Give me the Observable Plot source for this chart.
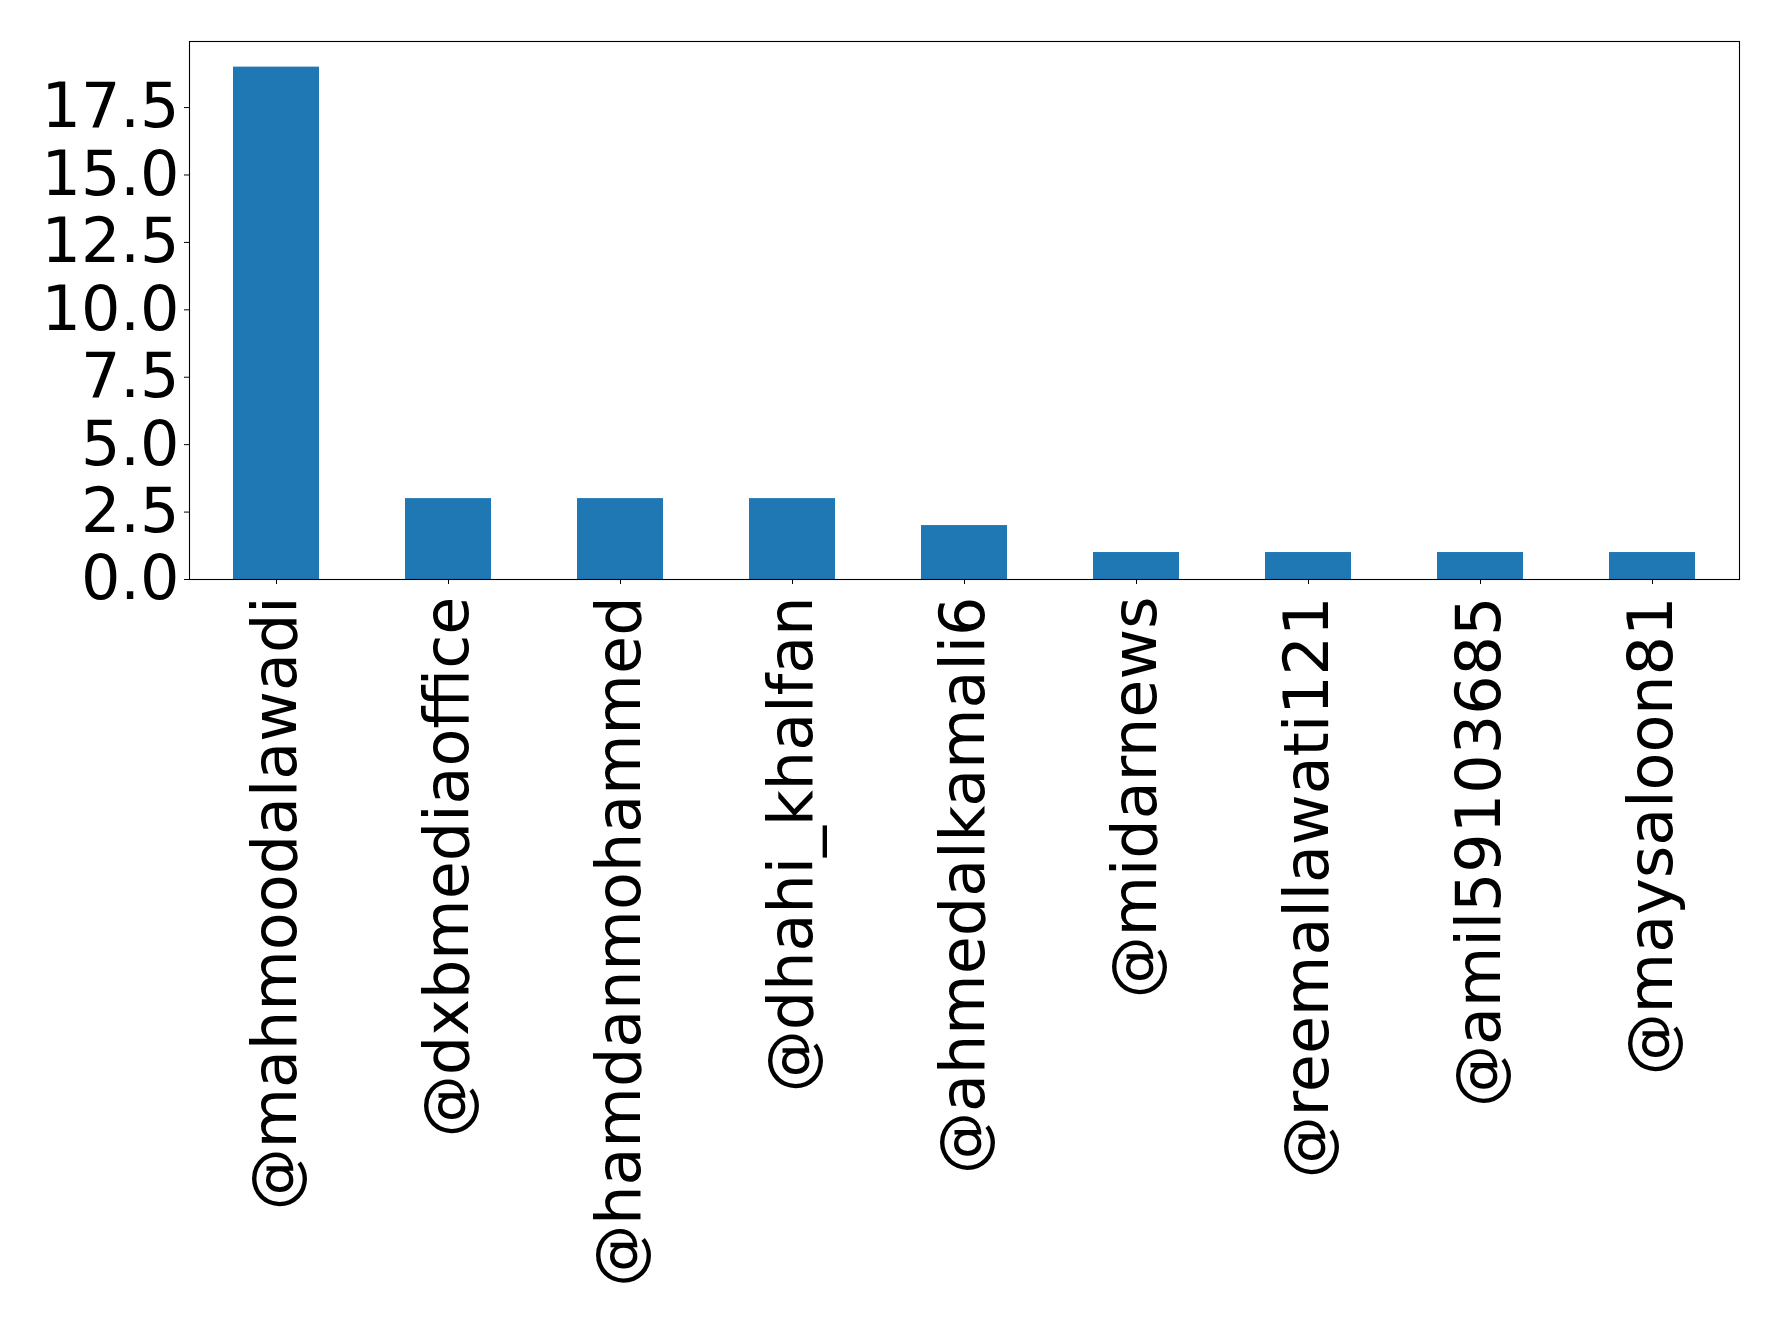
<!DOCTYPE html>
<html>
<head>
<meta charset="utf-8">
<script src="https://cdn.jsdelivr.net/npm/d3@7"></script>
<script src="https://cdn.jsdelivr.net/npm/@observablehq/plot@0.6"></script>
<style>
  html, body { margin: 0; padding: 0; background: white; }
  #chart { width: 1778px; height: 1323px; }
</style>
</head>
<body>
<div id="chart"></div>
<script>
// Mention counts per account
const handles = [
  "@mahmoodalawadi",
  "@dxbmediaoffice",
  "@hamdanmohammed",
  "@dhahi_khalfan",
  "@ahmedalkamali6",
  "@midarnews",
  "@reemallawati121",
  "@amil59103685",
  "@maysaloon81"
];
const counts = [19, 3, 3, 3, 2, 1, 1, 1, 1];
const yTicks = [0, 2.5, 5, 7.5, 10, 12.5, 15, 17.5];

const rows = handles.map((h, i) => ({handle: h, count: counts[i]}));
const yMax = d3.max(counts) * 1.05;

const chart = Plot.plot({
  width: 1778,
  height: 1323,
  marginLeft: 189,
  marginRight: 39,
  marginTop: 41,
  marginBottom: 744,
  style: {
    fontFamily: "'DejaVu Sans', sans-serif",
    fontSize: "62px",
    background: "white",
    color: "black"
  },
  x: {domain: handles, paddingInner: 0.5, paddingOuter: 0.25, label: null},
  y: {domain: [0, yMax], label: null},
  marks: [
    Plot.barY(rows, {x: "handle", y: "count", fill: "#1f77b4"}),
    Plot.axisY({
      ticks: yTicks,
      tickFormat: d => d.toFixed(1),
      tickSize: 5,
      tickPadding: 5,
      label: null
    }),
    Plot.axisX({
      tickRotate: -90,
      tickSize: 5,
      tickPadding: 12,
      label: null
    }),
    Plot.frame({stroke: "black", strokeWidth: 1.1})
  ]
});

document.getElementById("chart").appendChild(chart);
</script>
</body>
</html>
